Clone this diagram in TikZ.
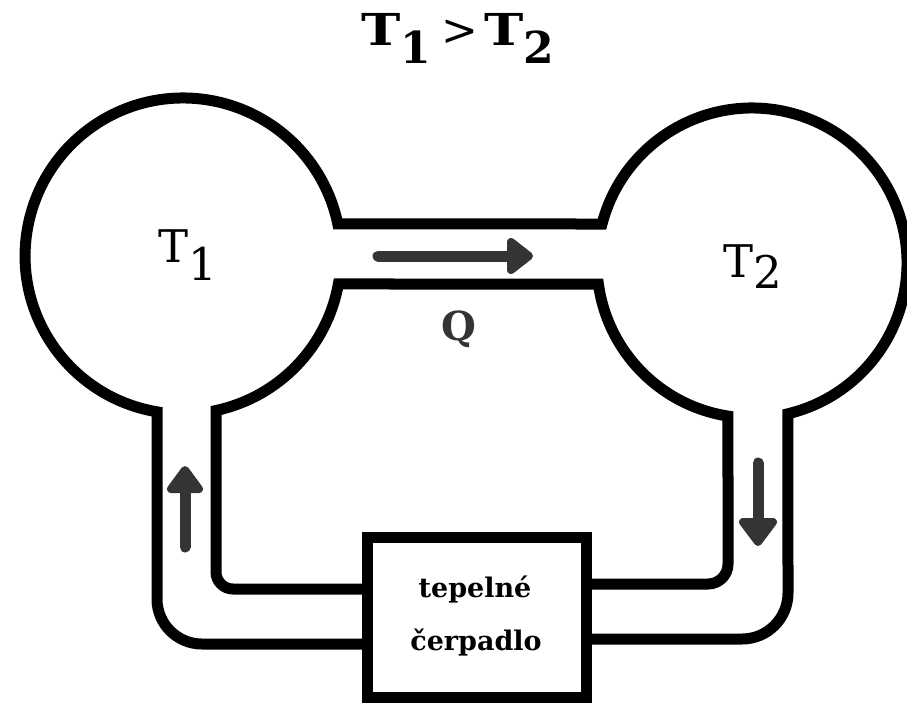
\documentclass[tikz,border=0pt]{standalone}
\usepackage{fontspec}
\setmainfont{DejaVu Serif}
\usepackage{graphicx}
\definecolor{arrowgray}{HTML}{343434}
\begin{document}
\begin{tikzpicture}[x=1pt,y=-1pt,
  wall/.style={line width=11pt,line join=miter},
  shaft/.style={line width=11pt,arrowgray,line cap=round},
  headtri/.style={fill=arrowgray,draw=arrowgray,line width=8pt,line join=round},
  lbl/.style={inner sep=0pt,font=\fontsize{45}{45}\selectfont}]
\useasboundingbox (0,0) rectangle (907,702);
\fill[white] (0,0) rectangle (907,702);
% heat pump box
\node (box) [draw,line width=11pt,minimum width=219pt,minimum height=160pt,inner sep=0pt,outer sep=0pt,anchor=north west] at (367,537) {};
% outer loop
\draw[wall] (box.west |- 0,644) -- (202,644) arc[start angle=90,end angle=180,radius=45]
  -- (157,411.8) arc[start angle=99.5,end angle=348.3,radius=158]
  -- (602,224) arc[start angle=194.57,end angle=436.6,radius=155]
  -- (788,593) arc[start angle=0,end angle=90,radius=46] -- (box.east |- 0,639);
% inner loop
\draw[wall] (box.west |- 0,589) -- (233,589) arc[start angle=90,end angle=180,radius=17]
  -- (216,410.5) arc[start angle=77.9,end angle=10.2,radius=158]
  -- (598.4,284) arc[start angle=172.2,end angle=98.9,radius=155]
  -- (728,564) arc[start angle=0,end angle=90,radius=20] -- (box.east |- 0,584);
\node (t1) [inner sep=0pt,anchor=base,font=\bfseries\fontsize{27}{27}\selectfont] at (475,597) {tepelné};
\node (t2) [inner sep=0pt,anchor=base,font=\bfseries\fontsize{27}{27}\selectfont] at (476,650) {čerpadlo};
% arrows
\coordinate (qa) at (378,256); \coordinate (qb) at (514,256);
\draw[shaft] (qa) -- (qb);
\fill[headtri] (511,242) -- (529,256) -- (511,270) -- cycle;
\coordinate (ua) at (185,547); \coordinate (ub) at (185,486);
\draw[shaft] (ua) -- (ub);
\fill[headtri] (171,489) -- (185,470) -- (199,489) -- cycle;
\coordinate (da) at (758,463); \coordinate (db) at (758,525);
\draw[shaft] (da) -- (db);
\fill[headtri] (743,522) -- (758,542) -- (773,522) -- cycle;
% labels
\node (title) [inner sep=0pt,anchor=base,font=\bfseries\fontsize{44}{44}\selectfont] at (458,45)
  {\scalebox{1.2}[1]{T}\raisebox{-18pt}{1}\hspace{10pt}{\mdseries\fontsize{44}{44}\selectfont >}\hspace{6pt}\scalebox{1.2}[1]{T}\raisebox{-18pt}{2}};
\node (T1) [lbl,anchor=base west] at (158,262) {T\raisebox{-18pt}{1}};
\node (T2) [lbl,anchor=base west] at (723,277) {T\raisebox{-11pt}{2}};
\node (Q) [inner sep=0pt,anchor=base,text=arrowgray,font=\bfseries\fontsize{40}{40}\selectfont] at (459,340) {Q};
\end{tikzpicture}
\end{document}
